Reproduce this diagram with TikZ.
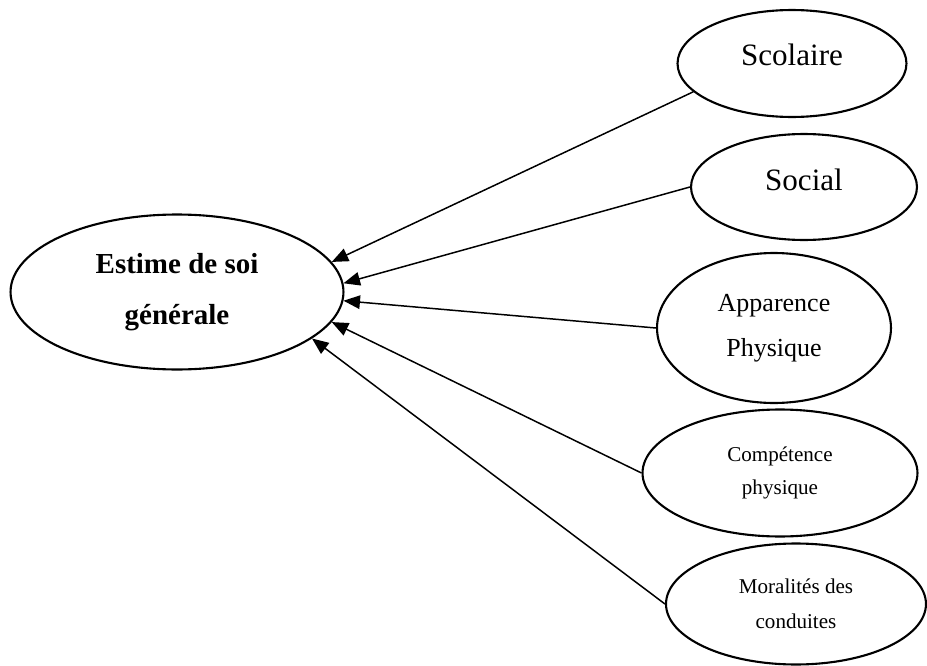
\documentclass[tikz,border=0pt]{standalone}
\usepackage{fontspec}
\setmainfont{Liberation Serif}
\usetikzlibrary{arrows.meta,shapes.geometric}

\begin{document}
\begin{tikzpicture}[x=0.02cm, y=-0.02cm,
	bulle/.style={draw, ellipse, line width=1.2pt, inner sep=0pt, align=center},
	fleche/.style={line width=0.85pt, -{Triangle[length=3.3mm, width=2.7mm]}}]
			%%%%% START %%%%%
			
			\useasboundingbox (0, 0) rectangle (927, 666);
			
			\node[bulle, minimum width=6.66cm, minimum height=3.1cm, font=\fontsize{16.5}{29}\selectfont\bfseries] (estime) at (177, 292) {Estime de soi\\générale};
			
			\node[bulle, minimum width=4.58cm, minimum height=2.14cm, text depth=0.36cm, font=\fontsize{17.7}{21}\selectfont] (scol) at (792, 63.5) {Scolaire};
			\node[bulle, minimum width=4.52cm, minimum height=2.12cm, text depth=0.3cm, font=\fontsize{17.7}{21}\selectfont] (social) at (804, 187) {Social};
			\node[bulle, minimum width=4.68cm, minimum height=3cm, font=\fontsize{14.8}{25.5}\selectfont] (apparence) at (774, 328) {Apparence\\Physique};
			\node[bulle, minimum width=5.5cm, minimum height=2.54cm, font=\fontsize{12}{18.7}\selectfont] (competence) at (780, 473) {Compétence\\physique};
			\node[bulle, minimum width=5.2cm, minimum height=2.42cm, font=\fontsize{12}{19.8}\selectfont] (moralite) at (796, 604) {Moralités des\\conduites};
			
			\draw[fleche] (scol.196) -- (estime.11);
			\draw[fleche] (social.west) -- (estime.3);
			\draw[fleche] (apparence.west) -- (estime.-3);
			\draw[fleche] (competence.west) -- (estime.-11);
			\draw[fleche] (moralite.west) -- (estime.-19);
			
			%%%%% END %%%%%
\end{tikzpicture}
\end{document}
